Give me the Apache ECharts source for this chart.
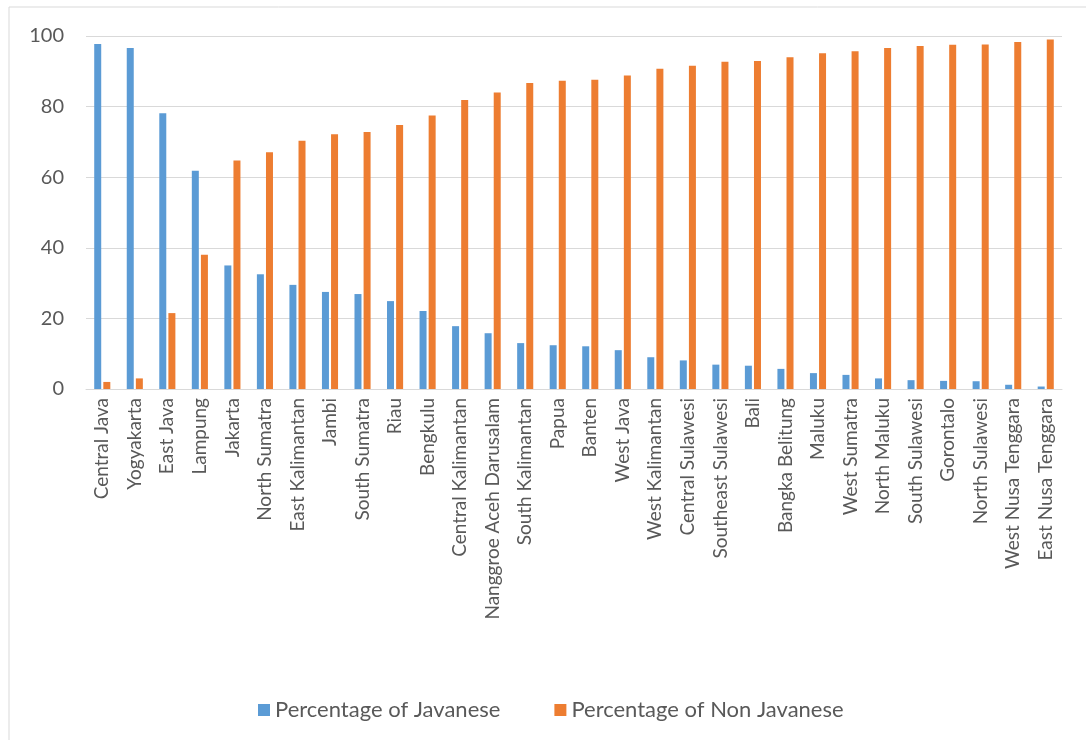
<!DOCTYPE html>
<html>
<head>
<meta charset="utf-8">
<script src="https://cdn.jsdelivr.net/npm/echarts@6/dist/echarts.min.js"></script>
<style>html,body{margin:0;padding:0;background:#fff}#c{width:1086px;height:740px}</style>
</head>
<body>
<div id="c"></div>
<script>
const categories = ["Central Java","Yogyakarta","East Java","Lampung","Jakarta","North Sumatra","East Kalimantan","Jambi","South Sumatra","Riau","Bengkulu","Central Kalimantan","Nanggroe Aceh Darusalam","South Kalimantan","Papua","Banten","West Java","West Kalimantan","Central Sulawesi","Southeast Sulawesi","Bali","Bangka Belitung","Maluku","West Sumatra","North Maluku","South Sulawesi","Gorontalo","North Sulawesi","West Nusa Tenggara","East Nusa Tenggara"];
const javanese = [97.7,96.6,78.1,61.8,35.0,32.5,29.5,27.5,26.9,24.9,22.1,17.8,15.8,13.0,12.4,12.1,11.0,9.0,8.1,6.9,6.6,5.7,4.5,4.0,3.0,2.5,2.3,2.2,1.2,0.7];
const nonJavanese = [2.0,3.0,21.5,38.0,64.7,67.1,70.3,72.2,72.8,74.8,77.5,81.9,84.0,86.7,87.3,87.6,88.8,90.7,91.6,92.7,92.9,94.0,95.1,95.7,96.6,97.2,97.5,97.6,98.3,99.0];
const seriesNames = ["Percentage of Javanese","Percentage of Non Javanese"];
const yTicks = {min:0, max:100, interval:20};

const FONT = "Lato";
const chart = echarts.init(document.getElementById('c'));
chart.setOption({
  animation:false,
  textStyle:{fontFamily:FONT},
  graphic:[{type:'rect',shape:{x:9,y:7,width:1200,height:900},style:{fill:'none',stroke:'#d9d9d9',lineWidth:1}}],
  grid:{left:86,right:24,top:36,bottom:351,containLabel:false},
  legend:{
    left:253, top:694, itemWidth:12, itemHeight:12, itemGap:54, icon:'rect',
    textStyle:{fontFamily:FONT,fontSize:22,color:'#595959',padding:[0,0,0,0]},
    data:seriesNames
  },
  xAxis:{
    type:'category', data:categories,
    axisLine:{lineStyle:{color:'#d9d9d9',width:1}},
    axisTick:{show:false},
    axisLabel:{rotate:90,interval:0,fontSize:19,color:'#595959',margin:9,fontFamily:FONT}
  },
  yAxis:{
    type:'value', min:yTicks.min, max:yTicks.max, interval:yTicks.interval,
    axisLine:{show:false}, axisTick:{show:false},
    axisLabel:{fontSize:20,color:'#595959',margin:22,fontFamily:FONT},
    splitLine:{lineStyle:{color:'#d9d9d9',width:1}}
  },
  series:[
    {name:seriesNames[0],type:'bar',data:javanese,barWidth:7,barGap:'30%',itemStyle:{color:'#5b9bd5'}},
    {name:seriesNames[1],type:'bar',data:nonJavanese,barWidth:7,barGap:'30%',itemStyle:{color:'#ed7d31'}}
  ]
});
</script>
</body>
</html>
